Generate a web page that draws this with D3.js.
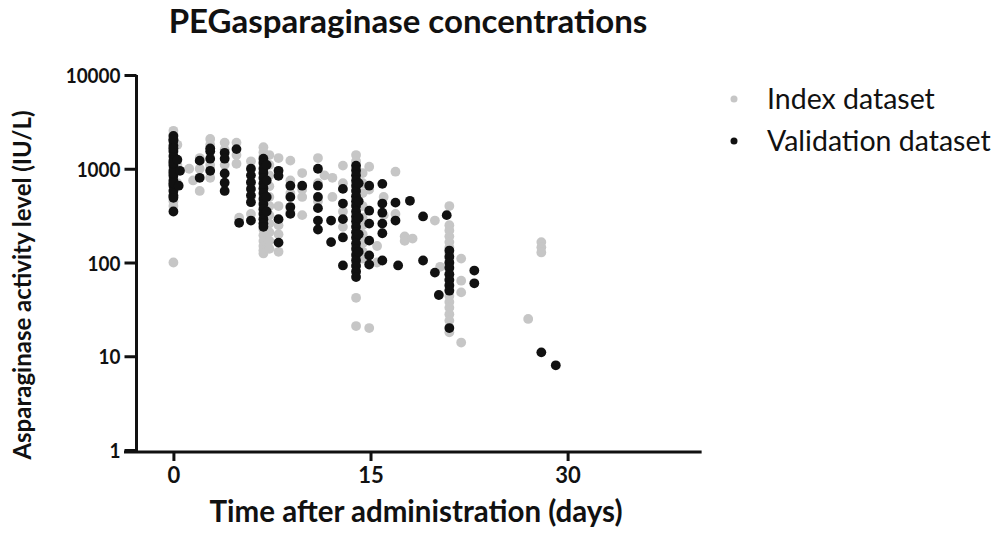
<!DOCTYPE html>
<html>
<head>
<meta charset="utf-8">
<script src="https://cdn.jsdelivr.net/npm/d3@7"></script>
<style>
  html, body { margin: 0; padding: 0; background: #fff; }
  svg { display: block; }
  text { font-family: Lato, "Open Sans", sans-serif; fill: #111; }
</style>
</head>
<body>
<svg id="chart" width="1004" height="534"></svg>
<script>
// ---------- data ----------
const title = "PEGasparaginase concentrations";
const xLabel = "Time after administration (days)";
const yLabel = "Asparaginase activity level (IU/L)";
const seriesNames = ["Index dataset", "Validation dataset"];
const xTicks = [0, 15, 30];
const yTicks = [1, 10, 100, 1000, 10000];

// Index dataset (gray)
const indexDays = [
  0,0,0,0,0,0,0,0,0,0,0,0,0,0,0,0,0,
  0.3,0.3,0.3,
  1.2,1.5,
  2,2,2,
  2.8,2.8,2.8,2.8,
  3.9,3.9,3.9,
  4.8,4.8,4.8,
  5,
  5.9,5.9,5.9,5.9,
  6.85,6.85,6.85,6.85,6.85,6.85,6.85,6.85,6.85,6.85,6.85,6.85,6.85,6.85,6.85,6.85,6.85,6.85,6.85,6.85,6.85,
  7.3,7.3,7.3,7.3,7.3,7.3,7.3,7.3,7.3,7.3,7.3,
  8,8,8,8,8,
  8.9,8.9,8.9,8.9,
  9.8,9.8,9.8,9.8,
  11,11,11,
  11.5,
  12.1,12.1,
  12.9,12.9,12.9,12.9,
  13.9,13.9,13.9,13.9,13.9,13.9,13.9,13.9,13.9,13.9,13.9,13.9,13.9,13.9,13.9,13.9,13.9,13.9,13.9,13.9,
  14.4,14.4,14.4,14.4,14.4,14.4,14.4,14.4,14.4,14.4,
  14.9,14.9,14.9,
  15.5,15.5,
  16,16,
  16.9,16.9,
  17.6,17.6,
  18.2,
  19.9,
  20.3,
  21,21,21,21,21,21,21,21,21,21,21,21,21,21,21,21,21,21,21,21,
  21.9,21.9,21.9,21.9,
  27,
  28,28,28
];
const indexValues = [
  2540,2300,2100,1900,1700,1500,1300,1150,1000,880,780,680,600,520,450,400,100,
  1800,1100,700,
  1000,750,
  1300,580,1000,
  2080,1800,1100,800,
  1900,1100,1600,
  1130,1400,1900,
  300,
  1200,700,500,330,
  1700,1500,1350,1200,1050,900,780,680,600,520,450,390,340,300,260,225,195,170,150,135,125,
  1400,1100,850,650,500,400,320,260,210,170,140,
  1300,400,250,200,130,
  1220,750,350,550,
  900,500,600,320,
  1300,700,450,
  850,
  800,500,
  1080,700,350,240,
  1400,1200,1000,850,700,600,500,420,350,300,250,210,180,150,130,110,95,80,42,21,
  900,700,550,400,300,250,200,160,130,110,
  1050,600,20,
  150,100,
  500,320,
  930,330,
  190,170,
  180,
  280,
  90,
  400,250,220,190,165,145,125,110,97,85,75,66,58,51,44,38,33,28,24,18,
  110,64,48,14,
  25,
  165,145,128
];

// Validation dataset (black)
const validDays = [
  0,0,0,0,0,0,0,0,0,0,0,0,0,0,0,0,0,0,0,0,
  0.5,0.4,0.3,
  2,2,
  2.8,2.8,2.8,2.8,
  3.9,3.9,3.9,3.9,3.9,
  4.8,
  5,
  5.9,5.9,5.9,5.9,5.9,5.9,5.9,
  6.85,6.85,6.85,6.85,6.85,6.85,6.85,6.85,6.85,6.85,6.85,6.85,6.85,6.85,6.85,
  7.1,7.1,7.1,7.1,
  8,8,8,8,
  8.9,8.9,8.9,8.9,
  9.8,
  11,11,11,11,11,11,
  12,12,
  12.9,12.9,12.9,12.9,12.9,
  13.9,13.9,13.9,13.9,13.9,13.9,13.9,13.9,13.9,13.9,13.9,13.9,13.9,13.9,13.9,13.9,13.9,13.9,13.9,13.9,13.9,13.9,
  14.1,14.1,14.1,14.1,14.1,
  14.9,14.9,14.9,14.9,14.9,14.9,
  15.9,15.9,15.9,15.9,15.9,15.9,
  16.9,16.9,17.1,
  18,
  19,19,
  19.9,
  20.2,
  20.8,
  21,21,21,21,21,21,21,21,21,
  22.9,22.9,
  28,
  29.1
];
const validValues = [
  2240,1990,1760,1550,1370,1220,1080,950,840,745,660,580,515,490,350,2050,1650,1150,900,700,
  950,660,1250,
  1220,800,
  1650,1540,1280,950,
  1480,1280,890,710,580,
  1620,
  265,
  1000,850,720,610,520,440,280,
  1280,1150,1000,900,800,700,620,550,480,420,370,330,290,260,240,
  1100,750,500,350,
  950,840,290,163,
  660,500,390,330,
  660,
  1000,660,500,380,280,225,
  280,165,
  610,425,290,185,93,
  1080,960,850,750,660,580,510,450,400,350,310,275,240,210,185,160,140,120,105,92,80,70,
  700,450,300,200,130,
  660,357,260,171,119,95,
  690,425,340,260,205,105,
  435,280,93,
  455,
  310,105,
  78,
  45,
  320,
  134,115,100,88,75,65,57,50,20,
  82,60,
  11,
  8
];

// ---------- chart ----------
const svg = d3.select("#chart");

const x = d3.scaleLinear().domain([-3, 40]).range([134, 699]);
const y = d3.scaleLog().domain([1, 10000]).range([450, 75]);

const gray = "#c6c6c6";
const black = "#111111";
const r = 4.9;

const idx = indexDays.map((d, i) => ({ d, v: indexValues[i] }));
const val = validDays.map((d, i) => ({ d, v: validValues[i] }));

svg.append("g").selectAll("circle").data(idx).join("circle")
  .attr("cx", p => x(p.d)).attr("cy", p => y(p.v)).attr("r", r).attr("fill", gray);
svg.append("g").selectAll("circle").data(val).join("circle")
  .attr("cx", p => x(p.d)).attr("cy", p => y(p.v)).attr("r", r).attr("fill", black);

// y axis
const yAxisX = 136.5;
const yAxis = d3.axisLeft(y).tickValues(yTicks).tickFormat(d3.format("d")).tickSize(12).tickPadding(4);
const gy = svg.append("g").attr("transform", `translate(${yAxisX},0)`).call(yAxis);
gy.select(".domain").attr("stroke", "#111").attr("stroke-width", 3).attr("d", `M0,${y(10000)}V${y(1)+1.5}`);
gy.selectAll(".tick line").attr("stroke", "#111").attr("stroke-width", 3);
gy.selectAll(".tick text").style("font-size", "21px").style("font-weight", "bold").attr("dy", "0.36em")
  .attr("textLength", function() { return this.getComputedTextLength() * 0.9; })
  .attr("lengthAdjust", "spacingAndGlyphs");

// x axis
const xAxisY = 452;
const xAxis = d3.axisBottom(x).tickValues(xTicks).tickSize(9).tickPadding(6);
const gx = svg.append("g").attr("transform", `translate(0,${xAxisY})`).call(xAxis);
gx.select(".domain").attr("stroke", "#111").attr("stroke-width", 3).attr("d", `M124,0H${x(40.2)}`);
gx.selectAll(".tick line").attr("stroke", "#111").attr("stroke-width", 3);
gx.selectAll(".tick text").style("font-size", "22px").style("font-weight", "bold");

// title
svg.append("text").attr("x", 408).attr("y", 33).attr("text-anchor", "middle")
  .style("font-size", "33px").style("font-weight", "bold").text(title);

// x label
svg.append("text").attr("x", 416).attr("y", 522).attr("text-anchor", "middle")
  .style("font-size", "29.5px").style("font-weight", "bold").text(xLabel);

// y label
svg.append("text").attr("transform", `translate(31,285) rotate(-90)`).attr("text-anchor", "middle")
  .style("font-size", "24px").style("font-weight", "bold").text(yLabel);

// legend
const legend = svg.append("g");
const legendColors = [gray, black];
seriesNames.forEach((name, i) => {
  const ly = 99 + i * 42;
  legend.append("circle").attr("cx", 734).attr("cy", ly).attr("r", 3.5).attr("fill", legendColors[i]);
  legend.append("text").attr("x", 767).attr("y", ly).attr("dy", "0.36em")
    .style("font-size", "28.5px").text(name);
});
</script>
</body>
</html>
